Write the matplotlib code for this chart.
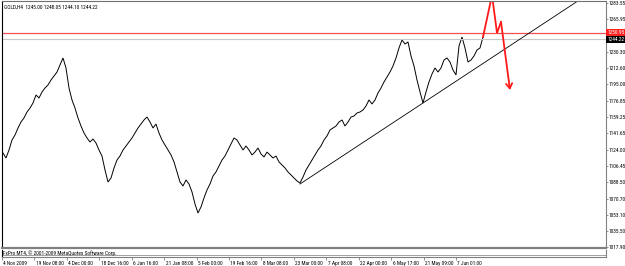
import numpy as np
import matplotlib
matplotlib.use("Agg")
import matplotlib.pyplot as plt
import matplotlib.transforms as mtrans
from matplotlib import font_manager as fm
from matplotlib.textpath import TextPath

# ---------------- data ----------------
close_prices = [
    1120.2, 1114.8, 1123.5, 1134.4, 1139.8, 1147.5, 1154.0, 1158.4, 1164.9, 1169.2,
    1174.7, 1183.4, 1180.1, 1186.7, 1191.0, 1194.3, 1199.7, 1204.1, 1208.4, 1216.1,
    1223.7, 1212.8, 1191.0, 1178.0, 1169.2, 1158.4, 1149.6, 1142.0, 1136.6, 1132.2,
    1135.5, 1131.1, 1123.5, 1117.0, 1101.7, 1088.7, 1093.0, 1103.9, 1112.6, 1117.0,
    1123.5, 1127.9, 1132.2, 1136.6, 1142.0, 1147.5, 1151.8, 1156.2, 1159.4, 1154.0,
    1147.5, 1151.8, 1142.0, 1134.4, 1129.0, 1123.5, 1118.1, 1110.5, 1099.6, 1088.7,
    1084.3, 1090.9, 1086.5, 1077.8, 1064.7, 1054.9, 1061.5, 1071.3, 1080.0, 1086.5,
    1095.2, 1099.6, 1106.1, 1112.6, 1117.0, 1123.5, 1130.1, 1136.6, 1134.4, 1129.0,
    1123.5, 1127.9, 1123.5, 1118.1, 1121.3, 1125.7, 1119.2, 1115.9, 1121.3, 1118.1,
    1114.8, 1117.0, 1110.5, 1107.2, 1103.9, 1099.6, 1096.3, 1093.0, 1089.8, 1087.6,
    1094.1, 1101.7, 1107.2, 1112.6, 1118.1, 1123.5, 1127.9, 1134.4, 1138.8, 1145.3,
    1147.5, 1149.6, 1154.0, 1156.2, 1149.6, 1154.0, 1159.4, 1160.5, 1163.8, 1164.9,
    1167.1, 1171.4, 1178.0, 1173.6, 1178.0, 1185.6, 1191.0, 1197.6, 1203.0, 1208.4,
    1215.0, 1223.7, 1234.6, 1243.3, 1238.9, 1241.1, 1225.9, 1215.0, 1199.7, 1186.7,
    1174.7, 1186.7, 1197.6, 1206.3, 1212.8, 1208.4, 1212.8, 1221.5, 1223.7, 1219.3,
    1210.6, 1205.2, 1236.7, 1246.5, 1234.6, 1219.3, 1221.5, 1225.9, 1232.4, 1234.6,
    1246.5,
]
time_labels = ["4 Nov 2009", "19 Nov 08:00", "4 Dec 00:00", "18 Dec 16:00",
               "6 Jan 16:00", "21 Jan 08:00", "5 Feb 00:00", "19 Feb 16:00",
               "8 Mar 08:00", "23 Mar 00:00", "7 Apr 08:00", "22 Apr 00:00",
               "6 May 17:00", "21 May 09:00", "7 Jun 01:00"]
price_ticks = [1283.55, 1265.95, 1230.30, 1212.60, 1195.00, 1176.85, 1159.25,
               1141.65, 1124.00, 1106.45, 1088.50, 1070.70, 1053.10, 1035.50, 1017.90]
resistance_price = 1250.95
bid_price = 1244.22
header_text = "GOLD,H4  1245.00 1248.05 1244.10 1244.22"
footer_text = "FxPro MT4, \u00a9 2001-2009 MetaQuotes Software Corp."
trend_idx = [99, 140]
trend_price = [1086.5, 1174.7]
proj_offsets = [0, 3, 4.67, 6, 9]
proj_prices = [1246.5, 1292.0, 1250.9, 1262.9, 1188.8]

# ---------------- font: pick a narrow face if present, fit size ----------------
FONT = 'DejaVu Sans'
for cand in ['Liberation Sans Narrow', 'DejaVu Sans Condensed', 'Roboto Condensed',
             'Open Sans Condensed', 'Noto Sans Condensed']:
    try:
        fm.findfont(fm.FontProperties(family=cand), fallback_to_default=False)
        FONT = cand
        break
    except Exception:
        pass
plt.rcParams['font.family'] = [FONT, 'DejaVu Sans']
_w10 = TextPath((0, 0), "19 Nov 08:00", size=10,
                prop=fm.FontProperties(family=FONT)).get_extents().width
FS = 10 * (27.5 * 0.72) / _w10

# ---------------- layout ----------------
W, H = 625, 266
fig = plt.figure(figsize=(W / 100, H / 100), dpi=100)
fig.patch.set_facecolor('white')

def px_axes(l, t, r, b):
    return fig.add_axes([l / W, (H - b) / H, (r - l) / W, (b - t) / H])

ax = px_axes(2, 1, 606, 248)
sub = px_axes(2, 250, 606, 257)

n = len(close_prices)
x = np.arange(n)
bar_per_label = 10.81
xmin, xmax = -1 / 3, 201
ymin, ymax = 1016.81, 1285.73

ax.set_xlim(xmin, xmax)
ax.set_ylim(ymin, ymax)
sub.set_xlim(xmin, xmax)
sub.set_ylim(0, 1)

ax.plot(x, close_prices, color='black', lw=0.7, solid_joinstyle='miter')

ax.axhline(resistance_price, color='#f05050', lw=0.9)
ax.axhline(bid_price, color='#c8c8c8', lw=0.8)

slope = (trend_price[1] - trend_price[0]) / (trend_idx[1] - trend_idx[0])
tx = np.array([trend_idx[0], xmax])
ax.plot(tx, trend_price[0] + slope * (tx - trend_idx[0]), color='black', lw=0.6)

px_ = [n - 1 + o for o in proj_offsets]
ax.plot(px_[:-1], proj_prices[:-1], color='#ff1a1a', lw=1.3, solid_joinstyle='miter')
ax.annotate('', xy=(px_[-1], proj_prices[-1]), xytext=(px_[-2], proj_prices[-2]),
            arrowprops=dict(arrowstyle='->,head_length=0.35,head_width=0.22',
                            color='#ff1a1a', lw=1.3, shrinkA=0, shrinkB=0))

for s in ['left', 'top', 'right', 'bottom']:
    ax.spines[s].set_linewidth(0.8)
ax.spines['left'].set_color('black')
ax.spines['top'].set_color('#707070')
ax.spines['right'].set_color('#808080')
ax.spines['bottom'].set_color('#808080')
ax.spines['bottom'].set_linewidth(1.6)

ax.set_xticks([])
ax.yaxis.tick_right()
ax.set_yticks(price_ticks)
ax.set_yticklabels([f"{v:.2f}" for v in price_ticks])
ax.tick_params(axis='y', direction='out', length=1.3, width=0.6, color='#808080',
               pad=0.7, labelsize=FS, labelcolor='black')

for val, bg, fg in [(resistance_price, '#ff2020', 'white'), (bid_price, 'black', 'white')]:
    ax.annotate(f"{val:.2f}", xy=(1.0, val), xycoords=('axes fraction', 'data'),
                xytext=(1.0, 0), textcoords='offset points', ha='left', va='center',
                fontsize=FS, color=fg, annotation_clip=False,
                bbox=dict(boxstyle='square,pad=0.2', fc=bg, ec='none'))

ax.text(0.004, 0.985, header_text, transform=ax.transAxes, ha='left', va='top',
        fontsize=FS, color='black')

for s in ['left', 'right']:
    sub.spines[s].set_color('#808080')
    sub.spines[s].set_linewidth(0.8)
sub.spines['left'].set_color('black')
sub.spines['top'].set_visible(False)
sub.spines['bottom'].set_color('#808080')
sub.spines['bottom'].set_linewidth(0.8)
sub.axhline(0.3, color='#909090', lw=0.6)
sub.set_yticks([])
sub.text(0.002, 0.95, footer_text, transform=sub.transAxes, ha='left', va='top',
         fontsize=FS, color='black')

tick_pos = [xmin + k * bar_per_label for k in range(len(time_labels))]
sub.set_xticks(tick_pos)
sub.set_xticklabels(time_labels)
sub.tick_params(axis='x', direction='out', length=2.2, width=0.6, color='#808080',
                pad=0.8, labelsize=FS)
offset = mtrans.ScaledTranslation(1.0 / 72, 0, fig.dpi_scale_trans)
for lab in sub.get_xticklabels():
    lab.set_horizontalalignment('left')
    lab.set_transform(lab.get_transform() + offset)

fig.savefig('out.png', dpi=100, facecolor='white')
